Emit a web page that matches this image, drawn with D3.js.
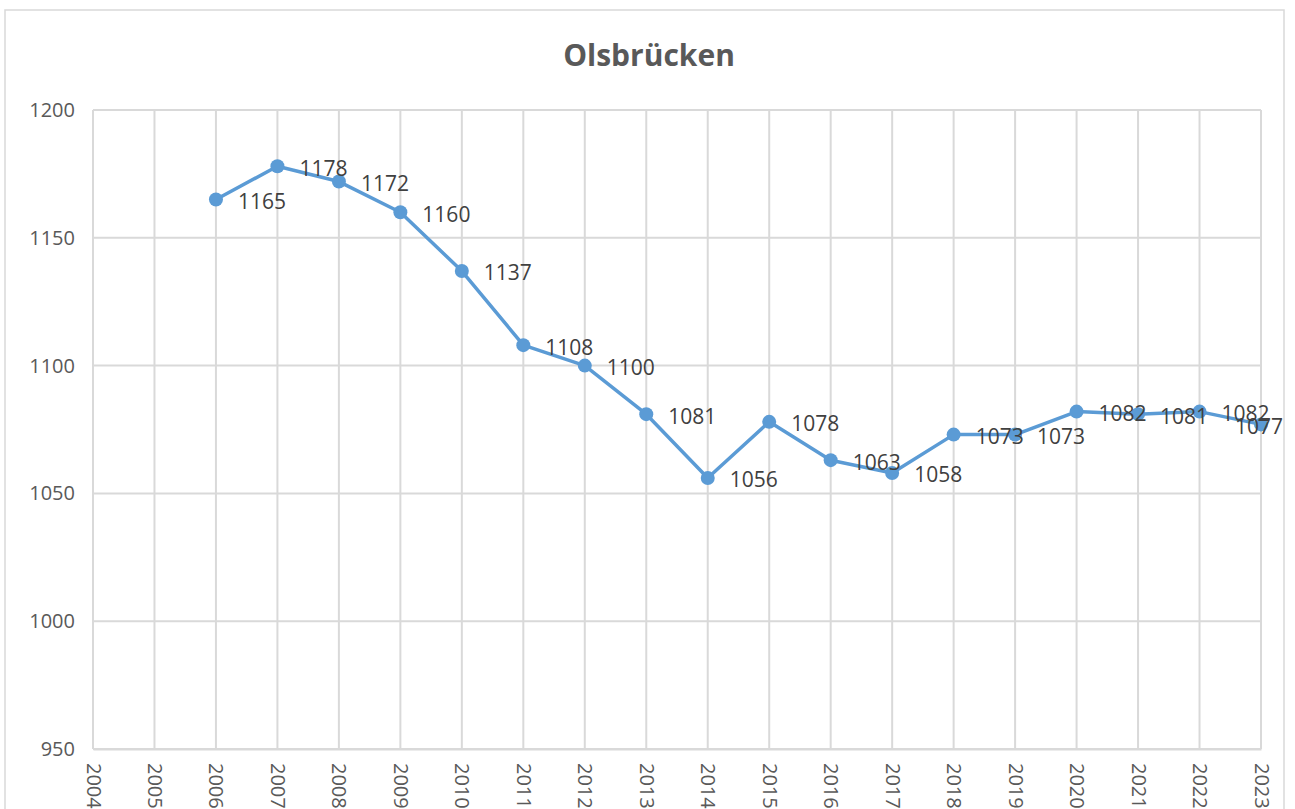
<!DOCTYPE html>
<html>
<head>
<meta charset="utf-8">
<script src="https://cdn.jsdelivr.net/npm/d3@7"></script>
<style>
  body { margin: 0; background: #fff; overflow: hidden; }
  svg text { font-family: "Open Sans", "DejaVu Sans", sans-serif; }
</style>
</head>
<body>
<div id="okvir"></div>
<script>
const godine = ["2004","2005","2006","2007","2008","2009","2010","2011","2012","2013",
  "2014","2015","2016","2017","2018","2019","2020","2021","2022","2023"]
const stanovnici = [null, null, 1165, 1178, 1172, 1160, 1137, 1108, 1100, 1081,
  1056, 1078, 1063, 1058, 1073, 1073, 1082, 1081, 1082, 1077]
const yTicks = [950, 1000, 1050, 1100, 1150, 1200]
const naslov = "Olsbrücken"

const dataset = godine.map((g, i) => ({ godina: g, vrijednost: stanovnici[i] }))
  .filter(d => d.vrijednost !== null)

const sirina = 1295, visina = 809
const margine = { top: 110, right: 34, bottom: 60, left: 93 }
const grSirina = sirina - margine.left - margine.right
const grVisina = visina - margine.top - margine.bottom

const okvir = d3.select("#okvir").append("svg")
  .attr("width", sirina)
  .attr("height", visina)

// vanjski okvir
okvir.append("rect")
  .attr("x", 5).attr("y", 10)
  .attr("width", 1279).attr("height", 820)
  .attr("fill", "white")
  .attr("stroke", "#d9d9d9")
  .attr("stroke-width", 1.5)

okvir.append("text")
  .attr("x", 649).attr("y", 66)
  .attr("text-anchor", "middle")
  .attr("fill", "#595959")
  .style("font-size", "30px")
  .style("font-weight", "bold")
  .text(naslov)

const granice = okvir.append("g")
  .attr("transform", `translate(${margine.left},${margine.top})`)

const xSkala = d3.scalePoint()
  .domain(godine)
  .range([0, grSirina])

const ySkala = d3.scaleLinear()
  .domain([950, 1200])
  .range([grVisina, 0])

// mreza
granice.append("g")
  .selectAll("line")
  .data(yTicks)
  .join("line")
  .attr("x1", 0).attr("x2", grSirina)
  .attr("y1", d => ySkala(d)).attr("y2", d => ySkala(d))
  .attr("stroke", "#d9d9d9").attr("stroke-width", 2)

granice.append("g")
  .selectAll("line")
  .data(godine)
  .join("line")
  .attr("x1", d => xSkala(d)).attr("x2", d => xSkala(d))
  .attr("y1", 0).attr("y2", grVisina)
  .attr("stroke", "#d9d9d9").attr("stroke-width", 2)

// osi
const yOs = granice.append("g")
  .call(d3.axisLeft(ySkala).tickValues(yTicks).tickFormat(d3.format("d")).tickSize(0).tickPadding(18))
yOs.select(".domain").remove()
yOs.selectAll("text")
  .attr("fill", "#595959")
  .style("font-size", "20px")
  .style("font-family", "'Open Sans', sans-serif")

const xOs = granice.append("g")
  .attr("transform", `translate(0,${grVisina})`)
  .call(d3.axisBottom(xSkala).tickSize(0))
xOs.select(".domain")
  .attr("stroke", "#d9d9d9").attr("stroke-width", 2)
xOs.selectAll("text")
  .attr("fill", "#595959")
  .style("font-size", "20px")
  .style("font-family", "'Open Sans', sans-serif")
  .attr("text-anchor", "start")
  .attr("transform", "rotate(90)")
  .attr("x", 14)
  .attr("y", 0)
  .attr("dy", "0.35em")

// linija
const linija = d3.line()
  .x(d => xSkala(d.godina))
  .y(d => ySkala(d.vrijednost))

granice.append("path")
  .datum(dataset)
  .attr("d", linija)
  .attr("fill", "none")
  .attr("stroke", "#5b9bd5")
  .attr("stroke-width", 3.5)
  .attr("stroke-linejoin", "round")

granice.selectAll("circle")
  .data(dataset)
  .join("circle")
  .attr("cx", d => xSkala(d.godina))
  .attr("cy", d => ySkala(d.vrijednost))
  .attr("r", 7)
  .attr("fill", "#5b9bd5")

const zadnja = dataset[dataset.length - 1]
granice.append("g")
  .selectAll("text")
  .data(dataset)
  .join("text")
  .attr("x", d => xSkala(d.godina) + 22)
  .attr("y", d => ySkala(d.vrijednost) + 2)
  .attr("text-anchor", d => d === zadnja ? "end" : "start")
  .attr("dy", "0.35em")
  .attr("fill", "#404040")
  .style("font-size", "21px")
  .text(d => d.vrijednost)
</script>
</body>
</html>
